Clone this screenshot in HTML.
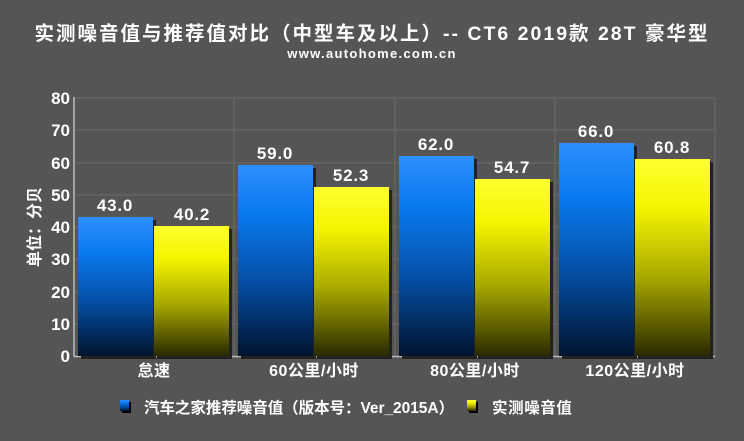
<!DOCTYPE html>
<html><head><meta charset="utf-8"><style>
body{margin:0;background:#555;}
svg{display:block;font-family:"Liberation Sans","Noto Sans CJK SC",sans-serif;font-weight:bold;}
</style></head><body>
<svg width="744" height="441" viewBox="0 0 744 441">
<defs>
<linearGradient id="b" x1="0" y1="0" x2="0" y2="1"><stop offset="0" stop-color="#2e8fff"/><stop offset="0.25" stop-color="#0a7af0"/><stop offset="0.6" stop-color="#0550a8"/><stop offset="1" stop-color="#00142e"/></linearGradient>
<linearGradient id="y" x1="0" y1="0" x2="0" y2="1"><stop offset="0" stop-color="#ffff30"/><stop offset="0.25" stop-color="#f4f400"/><stop offset="0.6" stop-color="#a8a800"/><stop offset="1" stop-color="#2a2a00"/></linearGradient>
</defs>
<rect width="744" height="441" fill="#555"/>
<text x="372" y="40" fill="#fff" font-size="19.5" letter-spacing="2" text-anchor="middle">实测噪音值与推荐值对比（中型车及以上）-- CT6 2019款 28T 豪华型</text>
<text x="372" y="58" fill="#fff" font-size="13" letter-spacing="1.3" text-anchor="middle">www.autohome.com.cn</text>
<g stroke="#6a6a6a" stroke-width="1">
<line x1="74" y1="98" x2="715" y2="98"/><line x1="74" y1="130" x2="715" y2="130"/><line x1="74" y1="163" x2="715" y2="163"/><line x1="74" y1="195" x2="715" y2="195"/><line x1="74" y1="227" x2="715" y2="227"/><line x1="74" y1="259" x2="715" y2="259"/><line x1="74" y1="292" x2="715" y2="292"/><line x1="74" y1="324" x2="715" y2="324"/>
<line x1="234" y1="98" x2="234" y2="356"/><line x1="395" y1="98" x2="395" y2="356"/><line x1="555" y1="98" x2="555" y2="356"/><line x1="715" y1="98" x2="715" y2="356"/>
</g>
<line x1="74" y1="97" x2="74" y2="357" stroke="#bbb" stroke-width="1.5"/>
<line x1="74" y1="356.5" x2="715" y2="356.5" stroke="#bbb" stroke-width="1.5"/>
<g fill="#fff" font-size="17" text-anchor="end">
<text x="70" y="104">80</text><text x="70" y="136">70</text><text x="70" y="169">60</text><text x="70" y="201">50</text><text x="70" y="233">40</text><text x="70" y="265">30</text><text x="70" y="298">20</text><text x="70" y="330">10</text><text x="70" y="362">0</text>
</g>
<text transform="translate(40,227) rotate(-90)" fill="#fff" font-size="16" text-anchor="middle">单位：分贝</text>
<g fill="#222">
<rect x="81" y="220" width="75" height="139"/><rect x="157" y="229" width="75" height="130"/>
<rect x="241" y="168" width="75" height="191"/><rect x="317" y="190" width="75" height="169"/>
<rect x="402" y="159" width="75" height="200"/><rect x="478" y="182" width="75" height="177"/>
<rect x="562" y="146" width="75" height="213"/><rect x="638" y="162" width="75" height="197"/>
</g>
<rect x="78" y="217" width="75" height="139" fill="url(#b)"/><rect x="154" y="226" width="75" height="130" fill="url(#y)"/>
<rect x="238" y="165" width="75" height="191" fill="url(#b)"/><rect x="314" y="187" width="75" height="169" fill="url(#y)"/>
<rect x="399" y="156" width="75" height="200" fill="url(#b)"/><rect x="475" y="179" width="75" height="177" fill="url(#y)"/>
<rect x="559" y="143" width="75" height="213" fill="url(#b)"/><rect x="635" y="159" width="75" height="197" fill="url(#y)"/>
<g fill="#fff" font-size="17" letter-spacing="0.8" text-anchor="middle">
<text x="115" y="211">43.0</text><text x="192" y="220">40.2</text>
<text x="275" y="159">59.0</text><text x="351" y="181">52.3</text>
<text x="436" y="150">62.0</text><text x="512" y="173">54.7</text>
<text x="596" y="137">66.0</text><text x="672" y="153">60.8</text>
</g>
<g fill="#fff" font-size="16" letter-spacing="0.5" text-anchor="middle">
<text x="154" y="376">怠速</text><text x="314" y="376">60公里/小时</text><text x="475" y="376">80公里/小时</text><text x="635" y="376">120公里/小时</text>
</g>
<rect x="122" y="402" width="9" height="11" fill="#000"/><rect x="120" y="400" width="9" height="11" fill="url(#b)"/>
<text x="144" y="413" fill="#fff" font-size="15.5" textLength="310">汽车之家推荐噪音值（版本号：Ver_2015A）</text>
<rect x="469" y="402" width="9" height="11" fill="#000"/><rect x="467" y="400" width="9" height="11" fill="url(#y)"/>
<text x="492" y="413" fill="#fff" font-size="15.5" letter-spacing="0.6">实测噪音值</text>
</svg>
</body></html>
